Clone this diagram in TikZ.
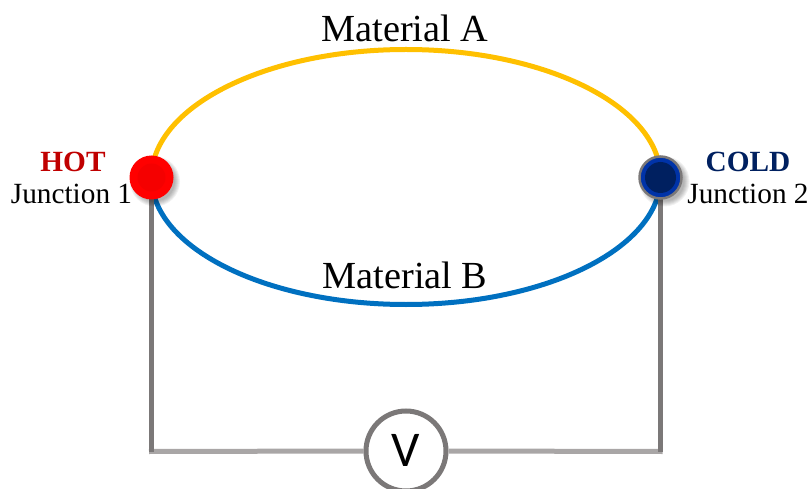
\documentclass[tikz,border=0pt]{standalone}
\usepackage{fontspec}
\setmainfont{Liberation Serif}
\newfontfamily\vfont{Carlito}
\usetikzlibrary{backgrounds}
\definecolor{matA}{HTML}{FFC000}
\definecolor{matB}{HTML}{0070C0}
\definecolor{wireDark}{HTML}{7B7878}
\definecolor{wireLight}{HTML}{A9A6A6}
\definecolor{hotText}{HTML}{C00000}
\definecolor{coldText}{HTML}{002060}
\definecolor{coldRing}{HTML}{0033A8}
\tikzset{
  x=1pt,y=1pt,
  lbl/.style={anchor=base,inner sep=0pt,font=\fontsize{38.3}{38}\selectfont},
  junctlbl/.style={anchor=base,inner sep=0pt,font=\fontsize{29.3}{29}\selectfont},
  statelbl/.style={anchor=base,inner sep=0pt,font=\fontsize{29.3}{29}\selectfont\bfseries},
  arcline/.style={line width=5pt},
  darkwire/.style={line width=5pt,draw=wireDark},
  lightwire/.style={line width=5pt,draw=wireLight},
  meter/.style={circle,draw=wireDark,line width=5pt,fill=white,minimum size=80pt,inner sep=0pt,font=\vfont\fontsize{50}{50}\selectfont},
}
\begin{document}
\begin{tikzpicture}
\useasboundingbox (0,0) rectangle (811,488);
\clip (0,0) rectangle (811,488);
\coordinate (CL) at (149,36.5);
\coordinate (CR) at (662.5,36.5);
% shadows
\foreach \r in {25,24,23,22,21,20}{
  \fill[black,opacity=0.055] (155,306.5) circle[radius=\r];
  \fill[black,opacity=0.055] (664.5,306.5) circle[radius=\r];
}
% junctions and meter
\node[circle,fill=red,minimum size=44pt,inner sep=0pt] (hot) at (151.5,310.5) {};
\fill[red!96!black] (hot.center) circle[radius=14];
\node[circle,fill=coldRing,draw=wireDark,line width=2.5pt,minimum size=42pt,inner sep=0pt] (cold) at (660.5,310.5) {};
\fill[coldText] (cold.center) circle[radius=15.5];
\node[meter] (V) at (406,37) {\raisebox{1pt}{V}};
% material arcs and wires behind the nodes
\begin{scope}[on background layer]
\draw[arcline,matA] (hot.center) arc[start angle=180,end angle=0,x radius=254.5,y radius=128];
\draw[arcline,matB] (hot.center) arc[start angle=180,end angle=360,x radius=254.5,y radius=127];
\draw[lightwire] (CL) -- (V.west);
\draw[lightwire] (V.east) -- (CR);
\draw[darkwire] (hot.center) -- (hot.center |- CL);
\draw[darkwire] (cold.center) -- (cold.center |- CR);
\end{scope}
% labels
\node[lbl] (mA) at (405,446.5) {Material A};
\node[lbl] (mB) at (405,199.5) {Material B};
\node[statelbl,text=hotText] (hotT) at (73,316) {HOT};
\node[junctlbl] (j1T) at (71.5,284) {Junction 1};
\node[statelbl,text=coldText] (coldT) at (748,316) {COLD};
\node[junctlbl] (j2T) at (748,284) {Junction 2};
\end{tikzpicture}
\end{document}
